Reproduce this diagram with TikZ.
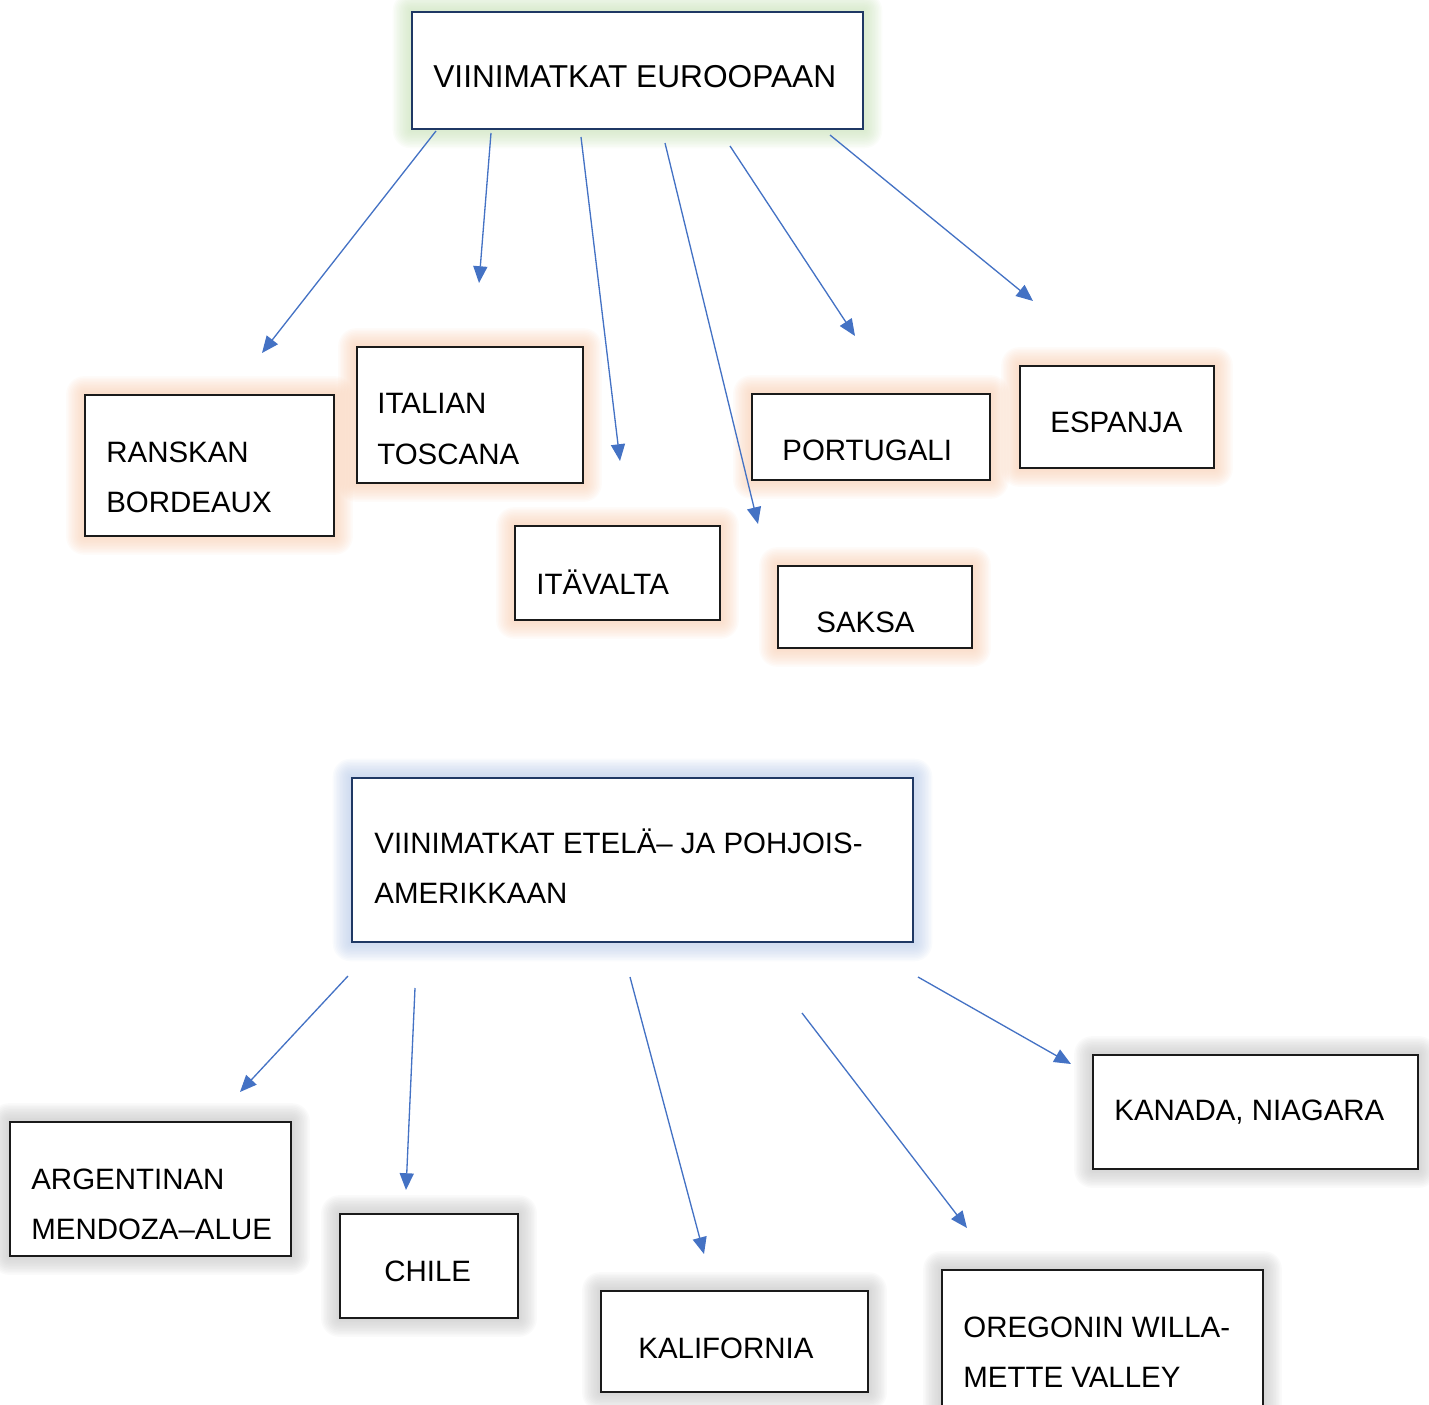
\documentclass[tikz,border=0pt]{standalone}
\usepackage{fontspec}
\setmainfont{Liberation Sans}
\usetikzlibrary{arrows.meta,backgrounds,fit}

\definecolor{arrowblue}{HTML}{4472C4}
\definecolor{navyline}{HTML}{1F3864}
\definecolor{boxline}{HTML}{1A1A1A}
\definecolor{glowgreen}{HTML}{C5E0B4}
\definecolor{glowpeach}{HTML}{F8CBAD}
\definecolor{glowblue}{HTML}{B4C7E7}
\definecolor{glowgrey}{HTML}{BFBFBF}

% soft halo around a named box: #1 node, #2 colour
\newcommand{\haloaround}[2]{%
  \foreach \k in {1,...,12}{%
    \pgfmathsetmacro\hr{\k*0.85}%
    \fill[#2, opacity=0.075, rounded corners=\hr pt]
      ([shift={(-\hr pt,-\hr pt)}]#1.south west) rectangle
      ([shift={(\hr pt,\hr pt)}]#1.north east);
  }%
}

\tikzset{
  box/.style={draw=boxline, line width=1.0pt, fill=white, inner sep=0pt},
  headbox/.style={draw=navyline, line width=1.5pt, fill=white, inner sep=0pt},
  txt/.style={inner sep=0pt, anchor=west, align=left,
    font=\fontsize{16.7}{28.4}\selectfont},
  headtxt/.style={txt, font=\fontsize{17.95}{28.4}\selectfont},
  link/.style={draw=arrowblue, line width=0.75pt,
    -{Triangle[length=9.5pt,width=8pt]}},
}

\begin{document}
\begin{tikzpicture}[x=0.567pt,y=-0.567pt]
\useasboundingbox (0,0) rectangle (1429,1405);
\clip (0,0) rectangle (1429,1405);

% ---------- Europe ----------
\node[headbox, fit={(412,12) (863,129)}] (eur) {};
\node[headtxt] (eur-t) at (433,77) {VIINIMATKAT EUROOPAAN};

\node[box, fit={(85,395) (334,536)}] (fra) {};
\node[txt] (fra-t) at (106,477) {RANSKAN\\BORDEAUX};

\node[box, fit={(357,347) (583,483)}] (ita) {};
\node[txt] (ita-t) at (377,429) {ITALIAN\\TOSCANA};

\node[box, fit={(515,526) (720,620)}] (aut) {};
\node[txt] (aut-t) at (536,582) {ITÄVALTA};

\node[box, fit={(752,394) (990,480)}] (por) {};
\node[txt] (por-t) at (782,450) {PORTUGALI};

\node[box, fit={(1020,366) (1214,468)}] (esp) {};
\node[txt] (esp-t) at (1050,422) {ESPANJA};

\node[box, fit={(778,566) (972,648)}] (ger) {};
\node[txt] (ger-t) at (816,622) {SAKSA};

% ---------- Americas ----------
\node[headbox, fit={(352,778) (913,942)}] (ame) {};
\node[txt] (ame-t) at (374,866) {VIINIMATKAT ETELÄ– JA POHJOIS-\\AMERIKKAAN};

\node[box, fit={(10,1122) (291,1256)}] (arg) {};
\node[txt] (arg-t) at (31,1204) {ARGENTINAN\\MENDOZA–ALUE};

\node[box, fit={(340,1214) (518,1318)}] (chi) {};
\node[txt] (chi-t) at (384,1271) {CHILE};

\node[box, fit={(601,1291) (868,1392)}] (cal) {};
\node[txt] (cal-t) at (638,1348) {KALIFORNIA};

\node[box, fit={(942,1270) (1263,1450)}] (ore) {};
\node[txt] (ore-t) at (963,1352) {OREGONIN WILLA-\\METTE VALLEY};

\node[box, fit={(1093,1055) (1418,1169)}] (can) {};
\node[txt] (can-t) at (1114,1112) {KANADA, NIAGARA};

% ---------- halos ----------
\begin{scope}[on background layer]
  \haloaround{eur}{glowgreen}
  \foreach \b in {fra,ita,aut,por,esp,ger}{\haloaround{\b}{glowpeach}}
  \haloaround{ame}{glowblue}
  \foreach \b in {arg,chi,cal,ore,can}{\haloaround{\b}{glowgrey}}
\end{scope}

% ---------- arrow ends ----------
\coordinate (e1s) at (436,131);  \coordinate (e1e) at (262,353);
\coordinate (e2s) at (491,133);  \coordinate (e2e) at (479,283);
\coordinate (e3s) at (581,137);  \coordinate (e3e) at (620,461);
\coordinate (e4s) at (665,143);  \coordinate (e4e) at (758,524);
\coordinate (e5s) at (730,146);  \coordinate (e5e) at (855,336);
\coordinate (e6s) at (830,135);  \coordinate (e6e) at (1033,301);

\coordinate (a1s) at (348,976);  \coordinate (a1e) at (240,1092);
\coordinate (a2s) at (415,988);  \coordinate (a2e) at (406,1190);
\coordinate (a3s) at (630,977);  \coordinate (a3e) at (704,1254);
\coordinate (a4s) at (802,1013); \coordinate (a4e) at (967,1228);
\coordinate (a5s) at (918,977);  \coordinate (a5e) at (1071,1064);

\foreach \i in {1,...,6}{\draw[link] (e\i s) -- (e\i e);}
\foreach \i in {1,...,5}{\draw[link] (a\i s) -- (a\i e);}
\end{tikzpicture}
\end{document}
